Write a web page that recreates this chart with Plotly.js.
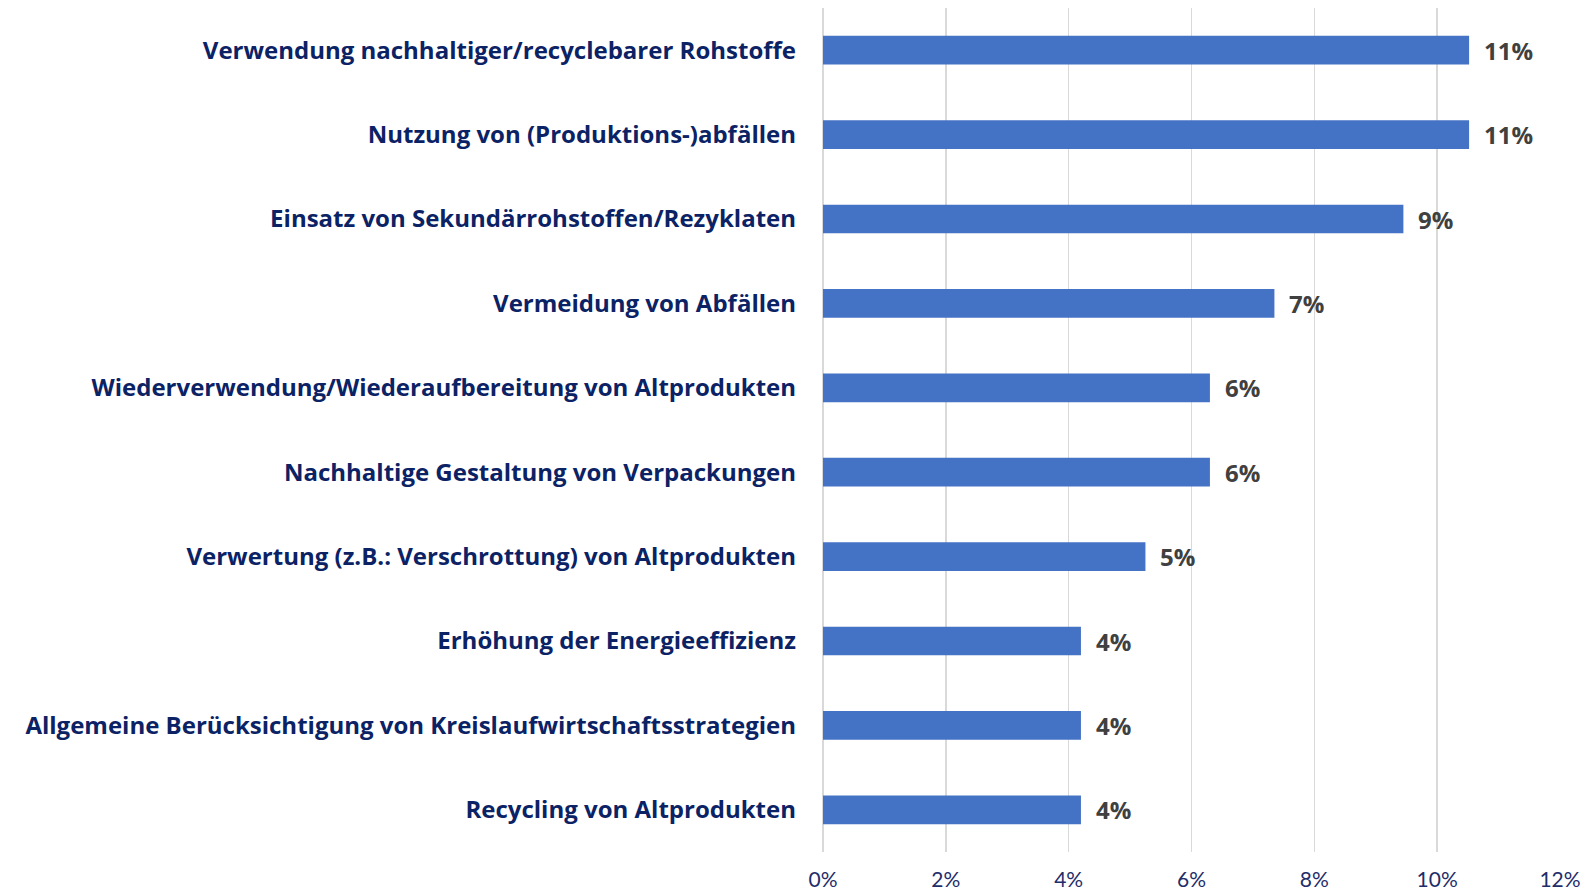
<!DOCTYPE html>
<html>
<head>
<meta charset="utf-8">
<script src="https://cdn.plot.ly/plotly-3.0.1.min.js"></script>
<style>html,body{margin:0;padding:0;background:#fff;}#chart{width:1594px;height:894px;}</style>
</head>
<body>
<div id="chart"></div>
<script>
const categories = [
  "Verwendung nachhaltiger/recyclebarer Rohstoffe",
  "Nutzung von (Produktions-)abfällen",
  "Einsatz von Sekundärrohstoffen/Rezyklaten",
  "Vermeidung von Abfällen",
  "Wiederverwendung/Wiederaufbereitung von Altprodukten",
  "Nachhaltige Gestaltung von Verpackungen",
  "Verwertung (z.B.: Verschrottung) von Altprodukten",
  "Erhöhung der Energieeffizienz",
  "Allgemeine Berücksichtigung von Kreislaufwirtschaftsstrategien",
  "Recycling von Altprodukten"
];
const values = [10.52, 10.52, 9.45, 7.35, 6.3, 6.3, 5.25, 4.2, 4.2, 4.2];
const valueLabels = ["11%", "11%", "9%", "7%", "6%", "6%", "5%", "4%", "4%", "4%"];
const tickValues = [0, 2, 4, 6, 8, 10, 12];
const tickLabels = ["0%", "2%", "4%", "6%", "8%", "10%", "12%"];

const trace = {
  type: 'bar',
  orientation: 'h',
  x: values,
  y: categories,
  width: 0.34,
  marker: {color: '#4472C4'},
  hoverinfo: 'x+y'
};

const annotations = values.map((v, i) => ({
  x: v, y: categories[i], xref: 'x', yref: 'y',
  text: valueLabels[i], showarrow: false,
  xanchor: 'left', yanchor: 'middle', xshift: 13,
  font: {family: '"Open Sans", sans-serif', size: 24, color: '#404040', weight: 'bold'}
}));

const layout = {
  width: 1594, height: 894,
  margin: {l: 822.5, r: 33.5, t: 7.5, b: 41.5},
  paper_bgcolor: '#ffffff', plot_bgcolor: '#ffffff',
  showlegend: false,
  font: {family: '"Open Sans", sans-serif'},
  xaxis: {
    range: [0, 12], tickvals: tickValues, ticktext: tickLabels,
    showgrid: true, gridcolor: '#d9d9d9', gridwidth: 1.6,
    zeroline: true, zerolinecolor: '#d9d9d9', zerolinewidth: 1.6,
    showline: false, ticks: '', ticklabelstandoff: 13,
    tickfont: {family: 'Lato, sans-serif', size: 21, color: '#1F2D6B'},
    fixedrange: true
  },
  yaxis: {
    categoryorder: 'array', categoryarray: categories.slice().reverse(),
    autorange: false, range: [-0.5, 9.5],
    showgrid: false, zeroline: false, showline: false, ticks: '',
    ticklabelstandoff: 26,
    tickfont: {family: '"Open Sans", sans-serif', size: 24, color: '#0B2265', weight: 'bold'},
    fixedrange: true
  },
  annotations: annotations
};

Plotly.newPlot('chart', [trace], layout, {displayModeBar: false, staticPlot: true});
</script>
</body>
</html>
